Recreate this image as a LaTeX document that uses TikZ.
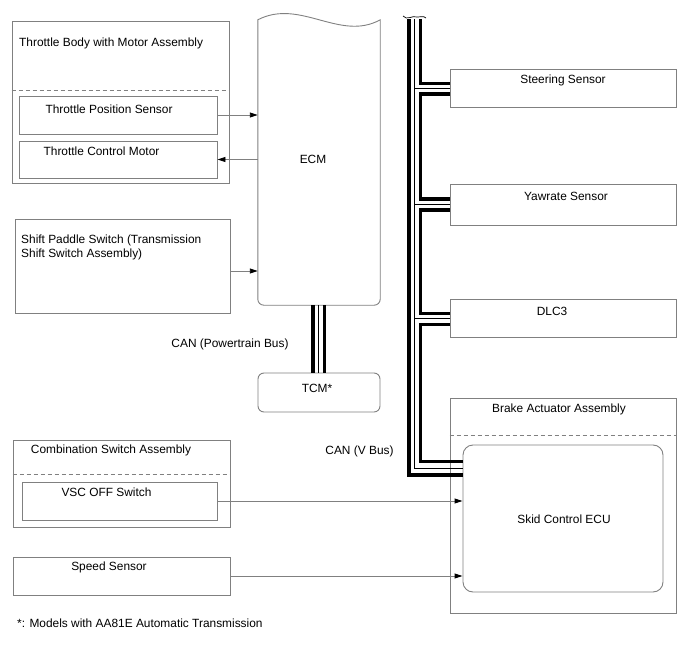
\documentclass[tikz,border=0pt]{standalone}
\usepackage{fontspec}
\setmainfont{Liberation Sans}
\usetikzlibrary{arrows.meta,calc}
\definecolor{bord}{RGB}{128,128,128}
\begin{document}
\begin{tikzpicture}[x=1pt,y=-1pt,
  box/.style={draw=bord,line width=0.9pt,inner sep=0pt},
  dsh/.style={draw=bord,line width=0.9pt,dash pattern=on 4pt off 3pt},
  lbl/.style={inner sep=0pt,font=\fontsize{11.9}{14}\selectfont,text height=8.5pt,text depth=0pt},
  sig/.style={draw=bord,line width=0.9pt,-{Triangle[length=8pt,width=5pt,black]}},
  busthick/.style={draw=black,line width=3.4pt,miter limit=10,line join=miter,line cap=butt},
  busthin/.style={draw=black,line width=0.8pt}]
\useasboundingbox (0,0) rectangle (688,658);
% left side boxes
\node[box,minimum width=217pt,minimum height=162pt] (tb) at (120.5,102) {};
\node[box,minimum width=198pt,minimum height=38pt] (tps) at (118,115) {};
\node[box,minimum width=198pt,minimum height=37pt] (tcmot) at (118,159.5) {};
\draw[dsh] (tb.west |- 0,90) -- (tb.east |- 0,90);
\node[lbl,anchor=west] (tbl) at (19,42) {Throttle Body with Motor Assembly};
\node[lbl] (tpsl) at (109,109) {Throttle Position Sensor};
\node[lbl] (tcmotl) at (101.5,151) {Throttle Control Motor};

\node[box,minimum width=215pt,minimum height=94pt] (sps) at (122.5,266) {};
\node[lbl,anchor=west] (spsl1) at (21,239) {Shift Paddle Switch (Transmission};
\node[lbl,anchor=west] (spsl2) at (21,253) {Shift Switch Assembly)};

\node[box,minimum width=217pt,minimum height=87pt] (csa) at (121.5,483.5) {};
\node[box,minimum width=195pt,minimum height=38pt] (vsc) at (119.5,501) {};
\draw[dsh] (csa.west |- 0,474) -- (csa.east |- 0,474);
\node[lbl] (csal) at (111,449) {Combination Switch Assembly};
\node[lbl] (vscl) at (106.5,492) {VSC OFF Switch};

\node[box,minimum width=217pt,minimum height=38pt] (spd) at (121.5,576) {};
\node[lbl] (spdl) at (109,566.5) {Speed Sensor};

\node[lbl,anchor=west] (note) at (17,623) {*: Models with AA81E Automatic Transmission};

% ECM
\node[inner sep=0pt,minimum width=122pt,minimum height=285pt] (ecm) at (319,162.5) {};
\draw[bord,line width=0.9pt] (ecm.north west) .. controls (300,-2) and (340,42) .. (ecm.north east)
  {[rounded corners=6pt] -- (ecm.south east) -- (ecm.south west)} -- cycle;
\node[lbl] (ecml) at (313,159) {ECM};

% TCM
\node[box,rounded corners=6pt,minimum width=122pt,minimum height=39pt] (tcm) at (319,392.5) {};
\node[lbl] (tcml) at (317,388) {TCM*};
\node[lbl] (ptl) at (230,343) {CAN (Powertrain Bus)};

% right side boxes
\node[box,minimum width=226pt,minimum height=38pt] (str) at (563,88) {};
\node[lbl] (strl) at (563,79) {Steering Sensor};
\node[box,minimum width=226pt,minimum height=41pt] (yaw) at (563,204.5) {};
\node[lbl] (yawl) at (566,196) {Yawrate Sensor};
\node[box,minimum width=226pt,minimum height=38pt] (dlc) at (563,318) {};
\node[lbl] (dlcl) at (552,311) {DLC3};
\node[box,minimum width=226pt,minimum height=215pt] (baa) at (563,505.5) {};
\draw[dsh] (baa.west |- 0,435) -- (baa.east |- 0,435);
\node[lbl] (baal) at (559,408) {Brake Actuator Assembly};
\node[box,rounded corners=10pt,minimum width=200pt,minimum height=147pt] (skid) at (563,518.5) {};
\node[lbl] (skidl) at (564,519) {Skid Control ECU};
\node[lbl] (vbl) at (359.5,450) {CAN (V Bus)};

% signal arrows
\draw[sig] (tps.east) -- (tps.east -| ecm.west);
\draw[sig] (tcmot.east -| ecm.west) -- (tcmot.east);
\draw[sig] ($(sps.east)+(0,5)$) -- ($(sps.east -| ecm.west)+(0,5)$);
\draw[sig] (vsc.east) -- (vsc.east -| skid.west);
\draw[sig] (spd.east) -- (spd.east -| skid.west);

% powertrain bus
\draw[busthick] ([xshift=-6pt]ecm.south) -- ([xshift=-6pt]tcm.north);
\draw[busthin] ([xshift=-1pt]ecm.south) -- ([xshift=-1pt]tcm.north);
\draw[busthick] ([xshift=5.5pt]ecm.south) -- ([xshift=5.5pt]tcm.north);

% V bus
\coordinate (vtop) at (414.5,19);
\draw[busthick] ([xshift=-5.5pt]vtop) -- (409,475) -- (skid.west |- 0,475);
\draw[busthin] (vtop) -- (414.5,468) -- (skid.west |- 0,468);
\draw[busthick] ([xshift=6pt]vtop) -- (420.5,83.5) -- (str.west |- 0,83.5);
\draw[busthick] (str.west |- 0,94) -- (420.5,94) -- (420.5,199) -- (yaw.west |- 0,199);
\draw[busthick] (yaw.west |- 0,210) -- (420.5,210) -- (420.5,313.5) -- (dlc.west |- 0,313.5);
\draw[busthick] (dlc.west |- 0,324.5) -- (420.5,324.5) -- (420.5,461.5) -- (skid.west |- 0,461.5);
\draw[busthin] (str.west -| vtop) -- (str.west);
\draw[busthin] (yaw.west -| vtop) -- (yaw.west);
\draw[busthin] (dlc.west -| vtop) -- (dlc.west);
\draw[black,line width=0.7pt] (403,16) .. controls (407,21) and (412,15) .. (417,17) .. controls (420,18) and (423,15) .. (426,18);
\end{tikzpicture}
\end{document}
